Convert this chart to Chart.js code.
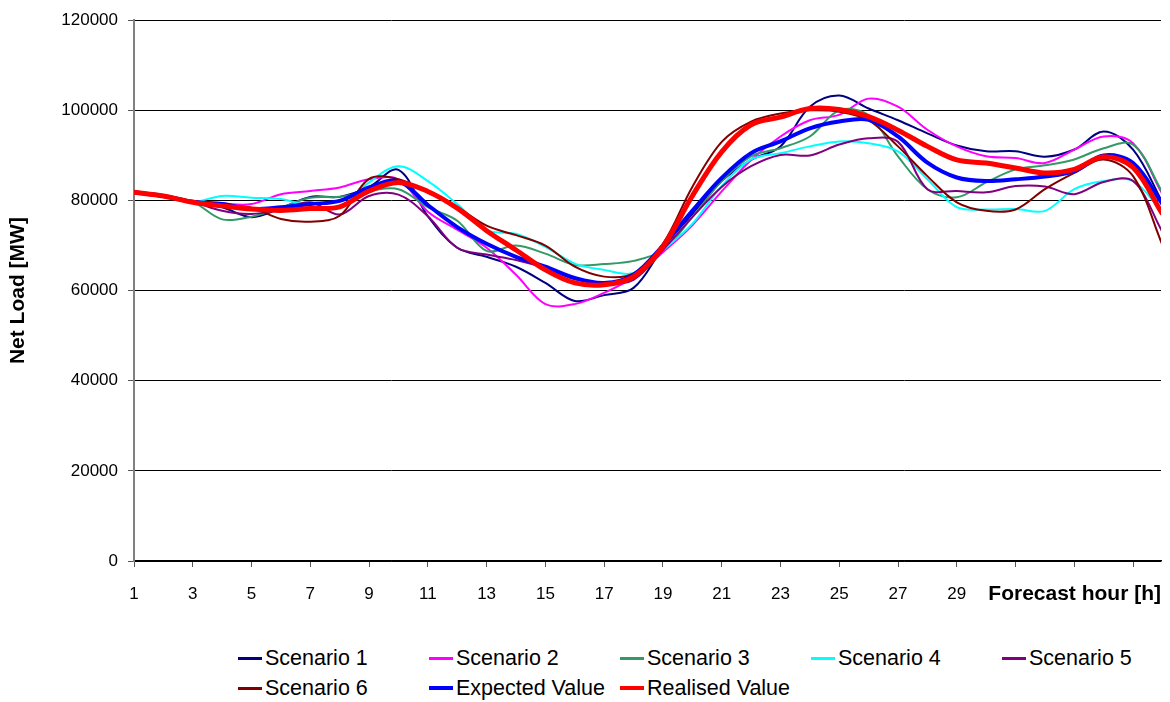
<!DOCTYPE html>
<html>
<head>
<meta charset="utf-8">
<script src="https://cdn.jsdelivr.net/npm/chart.js@4.4.1/dist/chart.umd.min.js"></script>
<style>
  body { margin: 0; background: #fff; width: 1170px; height: 702px; overflow: hidden;
         font-family: "Liberation Sans", Arial, sans-serif; }
  #wrap { position: absolute; left: 0; top: 0; width: 1170px; height: 620px; }
  #legend { position: absolute; left: 238px; top: 643px; display: grid;
            grid-template-columns: repeat(5, 191px); grid-auto-rows: 30px;
            font-size: 21.5px; color: #000; }
  .item { display: flex; align-items: center; white-space: nowrap; }
  .swatch { display: inline-block; width: 24px; margin-right: 3px; }
</style>
</head>
<body>
<div id="wrap"><canvas id="chart" width="1170" height="620"></canvas></div>
<div id="legend"></div>
<script>
// forecast hours
const hours = [1, 2, 3, 4, 5, 6, 7, 8, 9, 10, 11, 12, 13, 14, 15, 16, 17, 18,
               19, 20, 21, 22, 23, 24, 25, 26, 27, 28, 29, 30, 31, 32, 33, 34, 35, 36];
const xTickHours = [1, 3, 5, 7, 9, 11, 13, 15, 17, 19, 21, 23, 25, 27, 29, 31, 33, 35];
const yTicks = [0, 20000, 40000, 60000, 80000, 100000, 120000];

// net load per scenario [MW]
const scenario1 = [81800, 81000, 79700, 78500, 76300, 78300, 80800, 80800, 83000, 86800, 76500, 69500,
                   67500, 65300, 61700, 57700, 59000, 60600, 69500, 77000, 84300, 89000, 92000, 100800,
                   103300, 100400, 97800, 94900, 92200, 90900, 90900, 89700, 91300, 95300, 91300, 79600];
const scenario2 = [81800, 81000, 79700, 79300, 79200, 81400, 82100, 82900, 84700, 84700, 77500, 73500,
                   69500, 63500, 57000, 57000, 59500, 63000, 68500, 74500, 82000, 89000, 94200, 97800,
                   99000, 102600, 100800, 95700, 92000, 89800, 89400, 88300, 91300, 94200, 92700, 81400];
const scenario3 = [81800, 81000, 79700, 75800, 76400, 78400, 80600, 80800, 82100, 82500, 78500, 75500,
                   68800, 70000, 68200, 65700, 65900, 66600, 69000, 76300, 84300, 89800, 91600, 94200,
                   100000, 98900, 89800, 82500, 80700, 84000, 86900, 87800, 89100, 91600, 92400, 81800];
const scenario4 = [81800, 81000, 79700, 81000, 80600, 80300, 78800, 78600, 84000, 87600, 84300, 79200,
                   73400, 72600, 69700, 66000, 64600, 63900, 69000, 74800, 83200, 89100, 90500, 92000,
                   93100, 92700, 90900, 84700, 78500, 78000, 78100, 77700, 82500, 84300, 84300, 77400];
const scenario5 = [81800, 81000, 79700, 77700, 77000, 78100, 79600, 76900, 81000, 81300, 76500, 69500,
                   68000, 66800, 65000, 62500, 61600, 62400, 69000, 76300, 83000, 87600, 90100, 90000,
                   92400, 93800, 93000, 82500, 82100, 81800, 83200, 83100, 81400, 84100, 84300, 73000];
const scenario6 = [81800, 81000, 79700, 78800, 78400, 75900, 75300, 76600, 84800, 84700, 81800, 78500,
                   74400, 72300, 70000, 65300, 63100, 63800, 70400, 83000, 93000, 97500, 99300, 100000,
                   99700, 97800, 92000, 85400, 79600, 77700, 78000, 82500, 86100, 89100, 85400, 70100];
const expectedValue = [81800, 81000, 79700, 79200, 78100, 78500, 79200, 79900, 82900, 84300, 79000, 74100,
                       70400, 67500, 65300, 62800, 61700, 63500, 70000, 77700, 85000, 90500, 93100, 96000,
                       97500, 97900, 94200, 88400, 85100, 84300, 84700, 85300, 86500, 90000, 88300, 79200];
const realisedValue = [81800, 81000, 79600, 78800, 78100, 77800, 78200, 78600, 82100, 84000, 82000, 78300,
                       73300, 69000, 64600, 61700, 61300, 63100, 69800, 81000, 90800, 96800, 98500, 100400,
                       100200, 98600, 95600, 92000, 89000, 88300, 87200, 86100, 86900, 89700, 87300, 77000];

const seriesNames = ['Scenario 1', 'Scenario 2', 'Scenario 3', 'Scenario 4', 'Scenario 5',
                     'Scenario 6', 'Expected Value', 'Realised Value'];
const seriesValues = [scenario1, scenario2, scenario3, scenario4, scenario5,
                      scenario6, expectedValue, realisedValue];
const seriesColors = ['#000080', '#FF00FF', '#339966', '#00FFFF', '#800080',
                      '#800000', '#0000FF', '#FF0000'];
const seriesWidths = [2, 2, 2, 2, 2, 2, 4, 5];

const yTitle = 'Net Load [MW]';
const xTitle = 'Forecast hour [h]';
const FONT = '"Liberation Sans", Arial, sans-serif';

const datasets = seriesNames.map((name, i) => ({
    label: name,
    data: seriesValues[i],
    borderColor: seriesColors[i],
    backgroundColor: seriesColors[i],
    borderWidth: seriesWidths[i],
    pointRadius: 0,
    tension: 0.35,
    borderJoinStyle: 'round',
    fill: false,
    order: seriesNames.length - i // last series on top
}));

// titulo del eje x en la misma fila que las etiquetas
const xTitlePlugin = {
    id: 'xTitleInline',
    afterDraw(chart) {
        const sc = chart.scales.x;
        const ctx = chart.ctx;
        ctx.save();
        ctx.font = 'bold 21px ' + FONT;
        ctx.fillStyle = '#000';
        ctx.textAlign = 'right';
        ctx.textBaseline = 'middle';
        ctx.fillText(xTitle, sc.right, sc.top + 33);
        ctx.restore();
    }
};

new Chart(document.getElementById('chart'), {
    type: 'line',
    data: { labels: hours, datasets: datasets },
    options: {
        responsive: false,
        animation: false,
        layout: { padding: { top: 14, right: 9, left: 0, bottom: 0 } },
        plugins: { legend: { display: false }, tooltip: { enabled: false } },
        scales: {
            x: {
                type: 'linear',
                min: 1,
                max: 35.95,
                afterBuildTicks: s => { s.ticks = xTickHours.map(v => ({ value: v })); },
                afterFit: s => { s.height = 59; },
                ticks: {
                    autoSkip: false,
                    maxRotation: 0,
                    padding: 17,
                    color: '#000',
                    font: { family: FONT, size: 17 },
                    callback: v => (v <= 29 ? String(v) : '')
                },
                grid: { drawOnChartArea: false, drawTicks: true, tickLength: 6, tickColor: '#555' },
                border: { color: '#000', width: 1.5 }
            },
            y: {
                min: 0,
                max: 120000,
                afterBuildTicks: s => { s.ticks = yTicks.map(v => ({ value: v })); },
                afterFit: s => { s.width = 134; },
                ticks: {
                    padding: 10,
                    color: '#000',
                    font: { family: FONT, size: 17 },
                    callback: v => String(v)
                },
                grid: { color: '#000', lineWidth: 1, tickLength: 6, tickColor: '#555' },
                border: { color: '#808080', width: 2 },
                title: {
                    display: true,
                    text: yTitle,
                    color: '#000',
                    font: { family: FONT, size: 21, weight: 'bold' },
                    padding: { top: 6, bottom: 0 }
                }
            }
        }
    },
    plugins: [xTitlePlugin]
});

// leyenda en dos filas, columnas fijas
const legend = document.getElementById('legend');
seriesNames.forEach((name, i) => {
    const item = document.createElement('div');
    item.className = 'item';
    const sw = document.createElement('span');
    sw.className = 'swatch';
    sw.style.height = (seriesWidths[i] > 2 ? 4 : 3) + 'px';
    sw.style.background = seriesColors[i];
    item.appendChild(sw);
    item.appendChild(document.createTextNode(name));
    legend.appendChild(item);
});
</script>
</body>
</html>
